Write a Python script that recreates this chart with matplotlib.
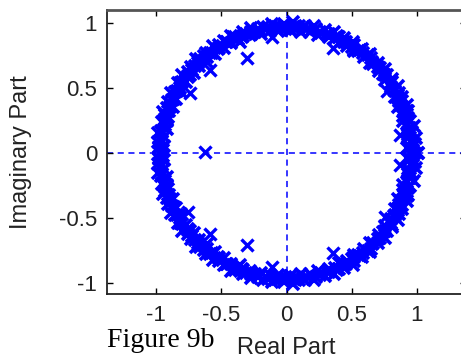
import numpy as np
import matplotlib
matplotlib.use('Agg')
import matplotlib.pyplot as plt

# poles clustered near the unit circle, upper half-plane (angle in deg, radius)
theta_deg = [
    0.0, 1.2, 2.9, 4.1, 5.6, 6.8, 8.3, 9.4, 10.9, 12.2,
    13.4, 14.8, 16.1, 17.7, 18.9, 20.2, 21.8, 23.0, 24.3, 25.9,
    27.1, 28.4, 29.8, 31.2, 32.5, 33.9, 35.0, 36.6, 37.9, 39.1,
    40.6, 41.8, 43.3, 44.5, 45.9, 47.2, 48.6, 49.8, 51.3, 52.5,
    53.9, 55.2, 56.4, 57.9, 59.1, 60.6, 61.8, 63.3, 64.5, 65.8,
    67.2, 68.5, 69.9, 71.1, 72.6, 73.8, 75.2, 76.5, 77.9, 79.1,
    80.5, 81.8, 83.2, 84.4, 85.9, 87.1, 88.6, 89.8, 91.2, 92.5,
    93.9, 95.1, 96.6, 97.8, 99.2, 100.5, 101.9, 103.1, 104.6, 105.8,
    107.2, 108.5, 109.9, 111.1, 112.6, 113.8, 115.2, 116.5, 117.9, 119.1,
    120.5, 121.8, 123.2, 124.4, 125.9, 127.1, 128.6, 129.8, 131.2, 132.5,
    133.9, 135.1, 136.6, 137.8, 139.2, 140.5, 141.9, 143.1, 144.6, 145.8,
    147.2, 148.5, 149.9, 151.1, 152.6, 153.8, 155.2, 156.5, 157.9, 159.1,
    160.5, 161.8, 163.2, 164.4, 165.9, 167.1, 168.6, 169.8, 171.2, 172.5,
    173.9, 175.1, 176.6, 177.8, 179.2, 180.0, 2.2, 7.5, 15.5, 22.4,
    30.5, 38.4, 46.6, 54.5, 62.7, 70.4, 78.6, 86.5, 94.4, 102.6,
    110.5, 118.4, 126.6, 134.5, 142.4, 150.6, 158.5, 166.4, 174.6, 178.5,
    3.5, 11.6, 19.5, 26.4, 34.2, 42.5, 50.4, 58.3, 66.6, 74.5,
    82.4, 90.6, 98.5, 106.4, 114.6, 122.5, 130.4, 138.6, 146.5, 154.4,
    162.6, 170.5, 177.2, 9.9, 25.0, 57.0, 88.0, 113.0, 141.0, 165.0,
]
radius = [
    1.01, 0.97, 0.95, 0.99, 0.96, 1.00, 0.94, 0.98, 0.96, 1.00,
    0.95, 0.98, 0.97, 0.94, 0.99, 0.96, 1.00, 0.95, 0.97, 0.99,
    0.94, 0.98, 0.96, 1.00, 0.95, 0.97, 0.99, 0.94, 0.98, 0.96,
    1.00, 0.95, 0.97, 0.99, 0.96, 0.94, 0.98, 1.00, 0.95, 0.97,
    0.99, 0.96, 0.94, 0.98, 1.00, 0.95, 0.97, 0.99, 0.94, 0.98,
    0.96, 1.00, 0.95, 0.97, 0.99, 0.96, 0.94, 0.98, 1.00, 0.95,
    0.97, 0.99, 0.94, 0.98, 0.96, 1.01, 0.95, 0.97, 0.99, 0.96,
    0.94, 0.98, 1.00, 0.95, 0.97, 0.99, 0.94, 0.98, 0.96, 1.00,
    0.95, 0.97, 0.99, 0.96, 0.93, 0.98, 1.00, 0.95, 0.97, 0.99,
    0.94, 0.98, 0.96, 1.00, 0.94, 0.97, 0.99, 0.96, 0.93, 0.98,
    1.00, 0.95, 0.97, 0.99, 0.94, 0.98, 0.96, 1.00, 0.95, 0.97,
    0.99, 0.96, 0.94, 0.98, 1.00, 0.95, 0.97, 0.99, 0.94, 0.98,
    0.96, 1.00, 0.95, 0.97, 0.99, 0.96, 0.94, 0.98, 1.00, 0.95,
    0.97, 0.99, 0.94, 0.98, 0.96, 0.97, 0.93, 0.94, 0.93, 0.93,
    0.96, 0.97, 0.96, 0.97, 0.96, 0.97, 0.96, 0.97, 0.96, 0.97,
    0.96, 0.97, 0.96, 0.97, 0.96, 0.97, 0.96, 0.97, 0.96, 0.95,
    0.98, 0.97, 0.98, 0.96, 0.98, 0.97, 0.98, 0.96, 0.98, 0.97,
    0.98, 0.96, 0.98, 0.97, 0.98, 0.96, 0.98, 0.97, 0.98, 0.96,
    0.98, 0.97, 0.98, 0.95, 0.95, 0.95, 0.95, 0.95, 0.95, 0.95,
]

# poles well inside the circle
inner_re = [-0.30, -0.59, -0.74, -0.63, -0.11, 0.36, 0.77, 0.87,
            -0.30, -0.59, -0.76, -0.11, 0.36, 0.76, 0.87]
inner_im = [0.73, 0.64, 0.46, 0.01, 0.89, 0.81, 0.48, 0.14,
            -0.71, -0.62, -0.45, -0.88, -0.77, -0.49, -0.09]

ticks = [-1, -0.5, 0, 0.5, 1]
tick_labels = ['-1', '-0.5', '0', '0.5', '1']

blue = '#0000ff'
plt.rcParams['font.family'] = ['Liberation Sans', 'DejaVu Sans']

th = np.deg2rad(theta_deg)
r = np.asarray(radius)
upper = r * np.exp(1j * th)
poles = np.concatenate([upper, upper.conj()])

fig = plt.figure(figsize=(4.61, 3.63), dpi=100)
ax = fig.add_axes([0.232, 0.190, 0.779, 0.782])

ax.axhline(0, color=blue, lw=1.1, ls=(0, (4, 3)), zorder=1)
ax.axvline(0, color=blue, lw=1.1, ls=(0, (4, 3)), zorder=1)
ax.plot(poles.real, poles.imag, ls='none', marker='x', ms=8, mew=2.6,
        color=blue, zorder=2)
ax.plot(inner_re, inner_im, ls='none', marker='x', ms=8, mew=2.4,
        color=blue, zorder=2)

ax.set_xlim(-1.38, 1.38)
ax.set_ylim(-1.085, 1.10)
ax.set_xticks(ticks)
ax.set_xticklabels(tick_labels)
ax.set_yticks(ticks)
ax.set_yticklabels(tick_labels)
ax.tick_params(direction='in', length=4, width=1, top=True, right=True,
               labelsize=16, labelcolor='#222222', pad=7)
ax.tick_params(axis='x', pad=8)
for s in ax.spines.values():
    s.set_linewidth(1.3)
    s.set_color('#222222')
ax.spines['top'].set_color('#555555')
ax.spines['top'].set_linewidth(2)

ax.set_xlabel('Real Part', fontsize=17, color='#222222')
ax.set_ylabel('Imaginary Part', fontsize=17, color='#222222')
ax.xaxis.set_label_coords(0.5, -0.151)
ax.yaxis.set_label_coords(-0.209, 0.5)

fig.text(0.232, 0.045, 'Figure 9b', family=['Liberation Serif', 'DejaVu Serif'],
         fontsize=20, color='black', va='baseline', ha='left')

fig.savefig('out.png', dpi=100, facecolor='white')
